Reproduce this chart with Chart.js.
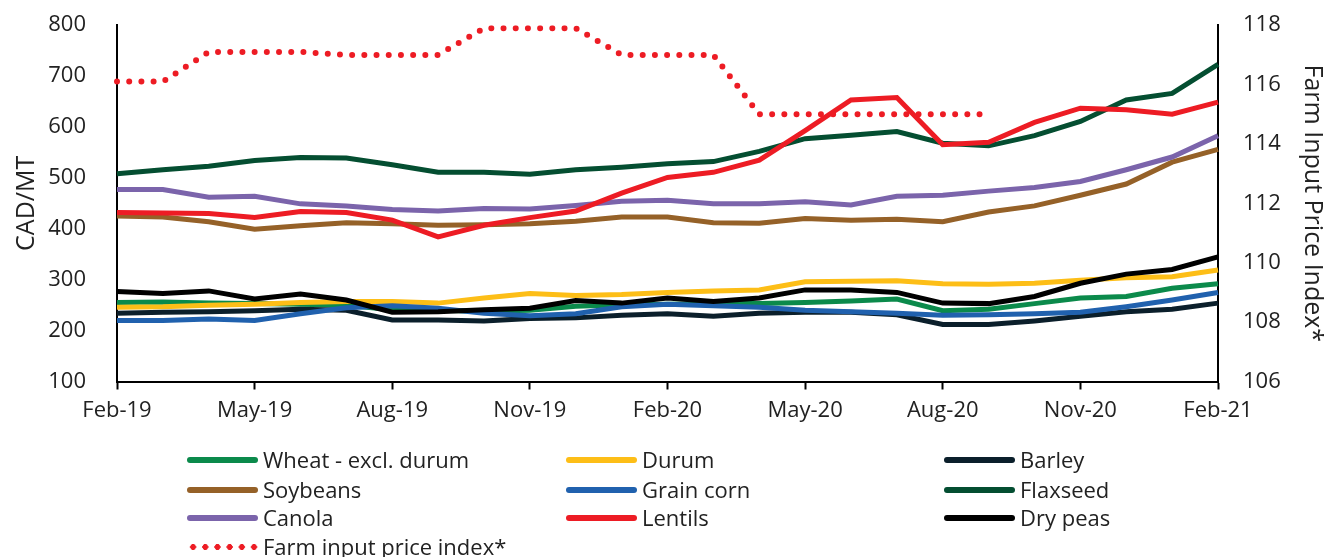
<!DOCTYPE html>
<html lang="en">
<head>
<meta charset="UTF-8">
<title>Crop prices vs farm input price index</title>
<script src="https://cdn.jsdelivr.net/npm/chart.js"></script>
<style>
    body { margin: 0; background: #fff; font-family: "Open Sans", sans-serif; color: #222; }
    #wrap { position: relative; width: 1333px; height: 557px; overflow: hidden; }
    #chart { position: absolute; left: 0; top: -19px; }
    #legend { position: absolute; left: 0; top: 0; width: 1333px; height: 557px; pointer-events: none; }
    .item { position: absolute; height: 28px; line-height: 28px; font-size: 22px; white-space: nowrap; }
    .swatch { position: absolute; left: 0; top: 11px; width: 71px; height: 6px; border-radius: 3px; }
    .dots { position: absolute; left: 0; top: 11px; width: 71px; height: 6px;
            background-image: radial-gradient(circle, #ed1c24 2.8px, transparent 3.2px);
            background-size: 12.2px 6px; background-repeat: repeat-x; }
    .item span { position: absolute; left: 76px; top: -1px; }
</style>
</head>
<body>
<div id="wrap">
    <canvas id="chart" width="1333" height="576"></canvas>
    <div id="legend"></div>
</div>
<script>
const months = ['Feb-19','Mar-19','Apr-19','May-19','Jun-19','Jul-19','Aug-19','Sep-19','Oct-19','Nov-19','Dec-19','Jan-20',
                'Feb-20','Mar-20','Apr-20','May-20','Jun-20','Jul-20','Aug-20','Sep-20','Oct-20','Nov-20','Dec-20','Jan-21','Feb-21'];

const wheat    = [255, 256, 254, 253, 252, 250, 241, 240, 238, 240, 248, 251, 252, 253, 253, 255, 258, 262, 239, 242, 253, 264, 267, 283, 292];
const durum    = [246, 247, 250, 252, 255, 257, 257, 254, 264, 273, 269, 271, 275, 278, 280, 296, 297, 298, 292, 291, 293, 299, 304, 306, 319];
const barley   = [234, 236, 237, 239, 242, 240, 221, 221, 219, 224, 225, 230, 233, 228, 234, 236, 236, 231, 212, 212, 219, 228, 237, 242, 254];
const soybeans = [425, 423, 414, 399, 406, 412, 410, 407, 408, 410, 415, 423, 423, 412, 411, 420, 417, 419, 414, 433, 445, 466, 488, 531, 556];
const corn     = [220, 220, 223, 220, 233, 245, 249, 244, 234, 229, 233, 247, 252, 249, 246, 240, 237, 234, 230, 231, 233, 236, 247, 260, 275];
const flaxseed = [508, 516, 523, 534, 540, 539, 526, 511, 511, 507, 516, 521, 528, 532, 552, 577, 584, 591, 568, 563, 583, 611, 653, 666, 723];
const canola   = [477, 477, 462, 464, 449, 445, 438, 435, 440, 439, 446, 454, 456, 449, 449, 453, 447, 464, 466, 474, 481, 493, 516, 541, 583];
const lentils  = [432, 431, 430, 422, 434, 432, 417, 384, 407, 422, 435, 470, 501, 511, 535, 593, 653, 658, 565, 570, 609, 637, 634, 625, 649];
const dryPeas  = [277, 273, 278, 262, 272, 260, 236, 237, 241, 244, 259, 254, 264, 257, 264, 280, 280, 275, 254, 253, 267, 293, 311, 320, 345];
const inputIndex = [116.1, 116.1, 117.1, 117.1, 117.1, 117.0, 117.0, 117.0, 117.9, 117.9, 117.9, 117.0, 117.0, 117.0,
                    115.0, 115.0, 115.0, 115.0, 115.0, 115.0, null, null, null, null, null];

const series = [
    { label: 'Wheat - excl. durum', data: wheat, color: '#0b8a4b' },
    { label: 'Durum', data: durum, color: '#fdbe17' },
    { label: 'Barley', data: barley, color: '#0b1f2b' },
    { label: 'Soybeans', data: soybeans, color: '#956128' },
    { label: 'Grain corn', data: corn, color: '#2061ae' },
    { label: 'Flaxseed', data: flaxseed, color: '#044e31' },
    { label: 'Canola', data: canola, color: '#7b64ab' },
    { label: 'Lentils', data: lentils, color: '#ed1c24' },
    { label: 'Dry peas', data: dryPeas, color: '#000000' }
];

const textColor = '#222';
const tickFont = { family: 'Open Sans', size: 22 };
const titleFont = { family: 'Open Sans', size: 25 };

const datasets = series.map((s, i) => ({
    label: s.label,
    data: s.data,
    borderColor: s.color,
    backgroundColor: s.color,
    borderWidth: 5,
    pointRadius: 0,
    tension: 0,
    yAxisID: 'y',
    order: 20 - i
}));
datasets.push({
    label: 'Farm input price index*',
    data: inputIndex,
    borderColor: '#ed1c24',
    borderWidth: 6,
    borderDash: [0, 12.2],
    borderCapStyle: 'round',
    pointRadius: 0,
    tension: 0,
    spanGaps: false,
    yAxisID: 'y2',
    order: 0
});

new Chart(document.getElementById('chart'), {
    type: 'line',
    data: { labels: months, datasets: datasets },
    options: {
        responsive: false,
        animation: false,
        layout: { padding: { top: 5, bottom: 127.5, left: 0, right: 0 } },
        plugins: { legend: { display: false }, tooltip: { enabled: false } },
        scales: {
            x: {
                offset: false,
                grid: {
                    display: true, drawOnChartArea: false, drawTicks: true, tickLength: 8, tickWidth: 2,
                    tickColor: c => (c.index % 3 === 0 ? '#000' : 'rgba(0,0,0,0)')
                },
                border: { display: true, color: '#000', width: 2 },
                ticks: {
                    autoSkip: false, maxRotation: 0, padding: 8, color: textColor, font: tickFont,
                    callback: (v, i) => (i % 3 === 0 ? months[i] : '')
                },
                afterFit: s => { s.height = 48; }
            },
            y: {
                position: 'left',
                min: 100, max: 800,
                grid: { display: true, drawOnChartArea: false, drawTicks: false },
                border: { display: true, color: '#000', width: 2 },
                ticks: { stepSize: 100, padding: 31, color: textColor, font: tickFont },
                title: { display: true, text: 'CAD/MT', color: textColor, font: titleFont, padding: { top: 12, bottom: 0 } },
                afterFit: s => { s.width = 117; }
            },
            y2: {
                position: 'right',
                min: 106, max: 118,
                grid: { display: true, drawOnChartArea: false, drawTicks: false },
                border: { display: true, color: '#000', width: 2 },
                ticks: { stepSize: 2, padding: 25, color: textColor, font: tickFont },
                title: { display: true, text: 'Farm Input Price Index*', color: textColor, font: titleFont, padding: { top: 6, bottom: 0 } },
                afterFit: s => { s.width = 115; }
            }
        }
    }
});

// legend: 3 columns, last row holds the dotted index
const colX = [187, 566, 944];
const rowY = [446, 476, 504, 533];
const legend = document.getElementById('legend');
series.forEach((s, i) => {
    const el = document.createElement('div');
    el.className = 'item';
    el.style.left = colX[i % 3] + 'px';
    el.style.top = rowY[Math.floor(i / 3)] + 'px';
    el.innerHTML = '<div class="swatch" style="background:' + s.color + '"></div><span>' + s.label + '</span>';
    legend.appendChild(el);
});
const idx = document.createElement('div');
idx.className = 'item';
idx.style.left = colX[0] + 'px';
idx.style.top = rowY[3] + 'px';
idx.innerHTML = '<div class="dots"></div><span>Farm input price index*</span>';
legend.appendChild(idx);
</script>
</body>
</html>
